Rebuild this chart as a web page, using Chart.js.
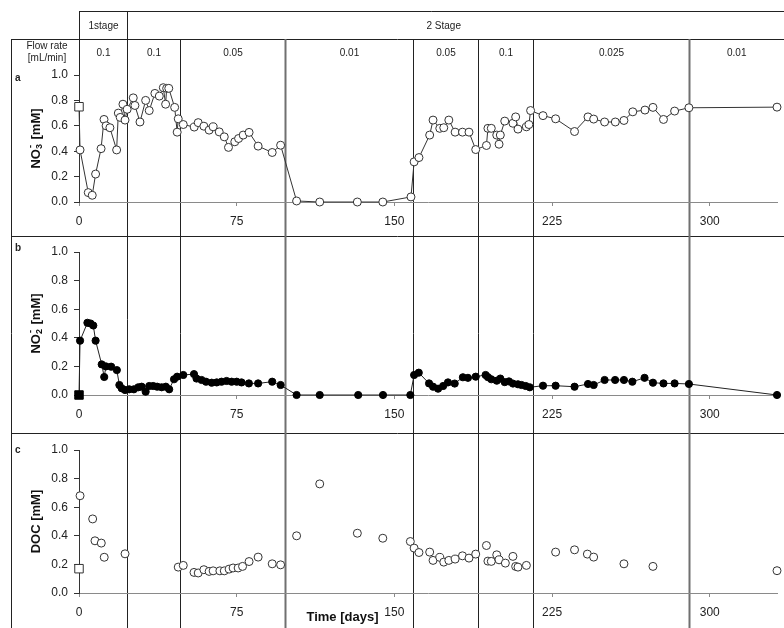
<!DOCTYPE html>
<html>
<head>
<meta charset="utf-8">
<script src="https://cdn.jsdelivr.net/npm/chart.js@4.4.1/dist/chart.umd.min.js"></script>
<style>
  body { margin: 0; background: #fff; }
  #wrap { position: relative; width: 784px; height: 628px; overflow: hidden; }
  #wrap canvas { position: absolute; left: 0; }
  #frame { top: 0; }
  #chartA { top: 0; }
  #chartB { top: 236px; }
  #chartC { top: 433px; }
</style>
</head>
<body>
<div id="wrap">
  <canvas id="frame" width="784" height="628"></canvas>
  <canvas id="chartA" width="784" height="236"></canvas>
  <canvas id="chartB" width="784" height="197"></canvas>
  <canvas id="chartC" width="784" height="195"></canvas>
</div>
<script>
// time axis and concentration axis ticks
const dayTicks = [0, 75, 150, 225, 300];
const concTicks = [0, 0.2, 0.4, 0.6, 0.8, 1.0];

// stage changes (days) and flow rates of each period
const stageDays = [23, 48, 98, 159, 190, 216, 290];
const flowRates = ['0.1', '0.1', '0.05', '0.01', '0.05', '0.1', '0.025', '0.01'];
const stageNames = ['1stage', '2 Stage'];

// influent (feed) concentrations, plotted at day 0 as squares
const no3Feed = 0.75;
const no2Feed = 0.0;
const docFeed = 0.17;

// nitrate
const no3Days = [0.5, 4.4, 6.3, 7.9, 10.5, 11.9, 12.9, 14.7, 17.9, 18.7, 19.6, 20.9, 21.9, 22.9,
  25.8, 26.6, 29, 31.7, 33.4, 36.1, 38.2, 40.1, 41.2, 41.7, 42.7, 45.5, 46.7, 47.2, 49.6,
  54.8, 56.7, 59.4, 61.9, 63.8, 66.7, 69.1, 71.1, 74.1, 75.9, 78.1, 80.9, 85.2, 91.9, 95.9,
  103.5, 114.5, 132.4, 144.5, 157.9, 159.4, 161.7, 166.8, 168.4, 171.6, 173.5, 175.9, 178.9,
  182.4, 185.5, 188.7, 193.8, 194.5, 196.1, 198.7, 199.8, 200.4, 202.5, 206.4, 207.7, 208.8,
  212.8, 214, 214.8, 220.7, 226.7, 235.7, 242.1, 244.8, 250, 255.1, 259.2, 263.4, 269.2,
  273, 278, 283.3, 290.1, 332];
const no3Vals = [0.41, 0.074, 0.053, 0.22, 0.42, 0.65, 0.6, 0.585, 0.41, 0.70, 0.666, 0.77, 0.645, 0.73,
  0.82, 0.76, 0.63, 0.80, 0.72, 0.855, 0.834, 0.90, 0.77, 0.895, 0.895, 0.745, 0.55, 0.655, 0.61,
  0.59, 0.625, 0.597, 0.566, 0.592, 0.552, 0.513, 0.43, 0.474, 0.50, 0.527, 0.548, 0.44, 0.39, 0.447,
  0.008, 0.0, 0.0, 0.0, 0.04, 0.316, 0.35, 0.527, 0.645, 0.58, 0.585, 0.645, 0.55,
  0.55, 0.55, 0.413, 0.445, 0.58, 0.58, 0.527, 0.455, 0.527, 0.637, 0.62, 0.67, 0.574,
  0.592, 0.61, 0.72, 0.68, 0.655, 0.555, 0.67, 0.653, 0.63, 0.63, 0.642, 0.71, 0.724,
  0.745, 0.65, 0.716, 0.742, 0.747];

// nitrite
const no2Days = [0.5, 4.0, 5.5, 6.8, 7.9, 10.8, 12.0, 12.8, 15.3, 18.0, 19.2, 20.3, 21.9, 23.9,
  26.1, 28.2, 29.8, 31.7, 33.4, 35.3, 37.2, 39.3, 41.3, 42.9, 45.2, 46.7, 49.6, 54.7, 55.9,
  58.3, 60.4, 63.1, 65.5, 67.8, 70.2, 72.6, 75, 77.3, 80.8, 85.2, 91.9, 95.9, 103.5, 114.5,
  132.8, 144.6, 157.6, 159.4, 161.6, 166.5, 168.4, 170.8, 173.2, 175.5, 178.7, 182.6, 185,
  188.7, 193.4, 194.5, 196.1, 198.7, 200.4, 202.5, 204.5, 206.4, 208.8, 210.5, 212.5, 214.4,
  220.7, 226.7, 235.7, 242.1, 244.8, 250, 255, 259.2, 263.2, 269, 273, 278, 283.3, 290.1, 332];
const no2Vals = [0.38, 0.505, 0.50, 0.486, 0.38, 0.214, 0.126, 0.20, 0.198, 0.174, 0.07, 0.047, 0.035, 0.04,
  0.04, 0.054, 0.058, 0.023, 0.063, 0.063, 0.058, 0.054, 0.058, 0.04, 0.11, 0.128, 0.14, 0.146, 0.115,
  0.105, 0.093, 0.086, 0.088, 0.093, 0.098, 0.093, 0.093, 0.088, 0.081, 0.081, 0.093, 0.07, 0, 0,
  0, 0, 0, 0.14, 0.156, 0.081, 0.058, 0.044, 0.063, 0.088, 0.08, 0.124, 0.12,
  0.128, 0.14, 0.125, 0.11, 0.10, 0.115, 0.09, 0.095, 0.08, 0.075, 0.07, 0.063, 0.054,
  0.065, 0.065, 0.058, 0.077, 0.07, 0.105, 0.105, 0.105, 0.093, 0.12, 0.086, 0.081, 0.081, 0.077, 0];

// dissolved organic carbon
const docDays = [0.5, 6.5, 7.6, 10.6, 12, 21.9, 47.2, 49.6, 54.7, 56.7, 59.4, 61.9, 63.8, 67, 69.1,
  71.4, 73.3, 75.7, 77.8, 80.9, 85.2, 91.9, 95.9, 103.5, 114.5, 132.4, 144.5, 157.6, 159.4,
  161.7, 166.8, 168.4, 171.6, 173.5, 175.9, 178.9, 182.4, 185.5, 188.7, 193.8, 194.5, 196.1,
  198.7, 199.8, 202.8, 206.4, 207.7, 208.8, 212.8, 226.7, 235.7, 241.8, 244.8, 259.2, 273, 332];
const docVals = [0.68, 0.518, 0.365, 0.349, 0.25, 0.274, 0.181, 0.193, 0.144, 0.14, 0.163, 0.151, 0.155, 0.155, 0.155,
  0.167, 0.175, 0.175, 0.186, 0.22, 0.251, 0.204, 0.197, 0.40, 0.763, 0.418, 0.383, 0.36, 0.314,
  0.283, 0.286, 0.228, 0.249, 0.216, 0.228, 0.237, 0.26, 0.244, 0.272, 0.332, 0.223, 0.221,
  0.267, 0.232, 0.209, 0.256, 0.186, 0.181, 0.193, 0.286, 0.302, 0.272, 0.251, 0.204, 0.186, 0.156];

const FONT = '"Liberation Sans", Arial, sans-serif';
Chart.defaults.font.family = FONT;

function points(days, vals, feed) {
  const pts = days.map((d, i) => ({ x: d, y: vals[i] }));
  if (feed !== null) pts.unshift({ x: 0, y: feed });
  return pts;
}

// first point of each series is the feed value -> square marker
const firstIsSquare = {
  pointStyle: c => (c.dataIndex === 0 ? 'rect' : 'circle'),
  pointRadius: c => (c.dataIndex === 0 ? 6 : 4)
};

function panel(id, padTop, axisHeight, datasets) {
  return new Chart(document.getElementById(id), {
    type: 'scatter',
    data: { datasets },
    options: {
      responsive: false,
      animation: false,
      events: [],
      layout: { padding: { top: padTop, right: 6, left: 0, bottom: 0 } },
      plugins: { legend: { display: false }, tooltip: { enabled: false } },
      scales: {
        x: {
          type: 'linear', min: 0, max: 332,
          afterBuildTicks: s => { s.ticks = dayTicks.map(v => ({ value: v })); },
          afterFit: s => { s.height = axisHeight; },
          border: { color: '#8a8a8a', width: 1 },
          grid: { drawOnChartArea: false, tickLength: 4, color: '#8a8a8a' },
          ticks: { padding: 8, color: '#222', font: { size: 12 } }
        },
        y: {
          type: 'linear', min: 0, max: 1,
          afterBuildTicks: s => { s.ticks = concTicks.map(v => ({ value: v })); },
          afterFit: s => { s.width = 79; },
          border: { color: '#333', width: 1 },
          grid: { drawOnChartArea: false, tickLength: 5, color: '#333' },
          ticks: { padding: 6, color: '#222', font: { size: 12 }, callback: v => v.toFixed(1) }
        }
      }
    }
  });
}

const chartA = panel('chartA', 75, 34, [{
  data: points(no3Days, no3Vals, no3Feed),
  showLine: true, borderColor: '#333', borderWidth: 1,
  pointBackgroundColor: '#fff', pointBorderColor: '#333', pointBorderWidth: 1,
  clip: false, ...firstIsSquare
}]);

const chartB = panel('chartB', 16, 38, [{
  data: points(no2Days, no2Vals, no2Feed),
  showLine: true, borderColor: '#222', borderWidth: 1,
  pointBackgroundColor: '#000', pointBorderColor: '#000', pointBorderWidth: 1,
  clip: false,
  pointStyle: c => (c.dataIndex === 0 ? 'rect' : 'circle'),
  pointRadius: c => (c.dataIndex === 0 ? 6 : 3.6)
}]);

const chartC = panel('chartC', 17, 35, [{
  data: points(docDays, docVals, docFeed),
  showLine: false,
  pointBackgroundColor: '#fff', pointBorderColor: '#333', pointBorderWidth: 1,
  clip: false, ...firstIsSquare
}]);

// rotated axis title with optional subscript / superscript after the base text
function axisTitle(c, cx, cy, base, sub, sup) {
  const big = 'bold 13px ' + FONT;
  const small = 'bold 9px ' + FONT;
  c.save();
  c.translate(cx, cy);
  c.rotate(-Math.PI / 2);
  c.textBaseline = 'middle';
  c.textAlign = 'left';
  c.fillStyle = '#111';
  c.font = big;
  const w1 = c.measureText(base).width;
  const w3 = c.measureText(' [mM]').width;
  c.font = small;
  const w2 = (sub || sup) ? Math.max(c.measureText(sub).width, c.measureText(sup).width) + 1 : 0;
  let x = -(w1 + w2 + w3) / 2;
  c.font = big;
  c.fillText(base, x, 0);
  x += w1;
  c.font = small;
  if (sub) c.fillText(sub, x, 4);
  if (sup) c.fillText(sup, x + 1, -5);
  x += w2;
  c.font = big;
  c.fillText(' [mM]', x, 0);
  c.restore();
}

function drawFrame() {
  const c = document.getElementById('frame').getContext('2d');
  const xs = chartA.scales.x;
  const X = d => Math.round(xs.getPixelForValue(d)) + 0.5;
  const W = 784, H = 628;

  const line = (x1, y1, x2, y2, color, width) => {
    c.beginPath();
    c.strokeStyle = color || '#222';
    c.lineWidth = width || 1;
    c.moveTo(x1, y1);
    c.lineTo(x2, y2);
    c.stroke();
  };

  // header table
  line(X(0), 11.5, W, 11.5);
  line(X(0), 11, X(0), chartA.chartArea.top);
  line(11, 39.5, W, 39.5);
  line(11.5, 39, 11.5, H);

  // panel separators
  line(11, 236.5, W, 236.5);
  line(11, 433.5, W, 433.5);

  // stage boundaries run through all panels
  stageDays.forEach((d, i) => {
    const gray = d === 98 || d === 290;
    line(X(d), i === 0 ? 11 : 39, X(d), H, gray ? '#707070' : '#222', gray ? 2 : 1);
  });

  c.fillStyle = '#222';
  c.textAlign = 'center';
  c.textBaseline = 'middle';
  c.font = '10px ' + FONT;
  c.fillText(stageNames[0], (X(0) + X(stageDays[0])) / 2, 26);
  c.fillText(stageNames[1], (X(stageDays[0]) + 760) / 2, 26);
  c.fillText('Flow rate', 47, 46);
  c.fillText('[mL/min]', 47, 58);

  const edges = [0, ...stageDays, 350];
  flowRates.forEach((f, i) => {
    const right = Math.min(X(edges[i + 1]), W);
    c.fillText(f, (X(edges[i]) + right) / 2, 53);
  });

  // panel letters
  c.font = 'bold 10px ' + FONT;
  c.textAlign = 'left';
  [['a', 78], ['b', 248], ['c', 450]].forEach(([t, y]) => c.fillText(t, 15, y));

  // y-axis titles, centred on each plot area
  const mid = (ch, top) => top + (ch.chartArea.top + ch.chartArea.bottom) / 2;
  axisTitle(c, 36, mid(chartA, 0), 'NO', '3', '-');
  axisTitle(c, 36, mid(chartB, 236), 'NO', '2', '-');
  axisTitle(c, 36, mid(chartC, 433), 'DOC', '', '');

  // time axis title
  c.font = 'bold 13px ' + FONT;
  c.textAlign = 'center';
  c.fillStyle = '#111';
  c.fillText('Time [days]', X(125), 433 + chartC.chartArea.bottom + 24);
}

drawFrame();
</script>
</body>
</html>
